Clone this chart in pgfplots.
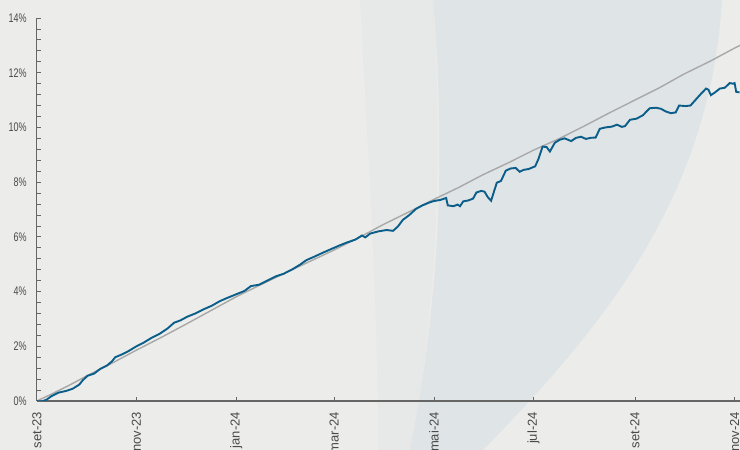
\documentclass[border=0pt]{standalone}
\usepackage{fontspec}
\setmainfont{Liberation Sans}
\newfontfamily\narrowfont{Liberation Sans}[FakeStretch=0.72]
\usepackage{pgfplots}
\pgfplotsset{compat=1.18}
\definecolor{bgc}{HTML}{ECECEA}
\definecolor{swa}{HTML}{DFE4E6}
\definecolor{swb}{HTML}{E7E9E9}
\definecolor{fundo}{HTML}{0B5E8A}
\definecolor{cdi}{HTML}{A8A8A8}
\definecolor{axc}{HTML}{666666}
\definecolor{txc}{HTML}{4A4A4A}
\begin{document}
\begin{tikzpicture}
\fill[bgc] (-36.8pt,-49pt) rectangle (703.2pt,401pt);
\begin{scope}[x=1pt,y=-1pt,shift={(-36.8pt,401pt)}]
\fill[swb] (360,0) .. controls (368,150) and (378,300) .. (378,450) -- (412,450) .. controls (430,330) and (446,200) .. (433,0) -- cycle;
\fill[swa] (433,0) .. controls (446,150) and (440,300) .. (410,450) -- (483,450) .. controls (600,330) and (710,200) .. (722,0) -- cycle;
\end{scope}
\begin{axis}[
  at={(0,0)}, anchor=south west,
  scale only axis, width=703.5pt, height=383pt,
  xmin=0, xmax=430.5, ymin=0, ymax=14,
  axis lines*=left,
  axis line style={axc},
  x axis line style={line width=1.5pt},
  y axis line style={line width=0.9pt},
  tick align=inside,
  major tick length=4pt, minor tick length=4pt,
  every tick/.style={axc, line width=0.8pt},
  xtick={0,61,122,182,243,304,366,427},
  xticklabels={set-23,nov-23,jan-24,mar-24,mai-24,jul-24,set-24,nov-24},
  xticklabel style={rotate=90, anchor=east, inner sep=0pt, font=\fontsize{13}{15}\selectfont, text=txc},
  xticklabel shift=11pt,
  ytick={0,2,4,6,8,10,12,14},
  yticklabels={0\%,2\%,4\%,6\%,8\%,10\%,12\%,14\%},
  minor y tick num=4,
  yticklabel style={anchor=east, inner sep=0pt, font=\narrowfont\fontsize{12.5}{14}\selectfont, text=txc},
  yticklabel shift=10pt,
]
\addplot[cdi, line width=1.4pt] coordinates {
(0,0) (10,0.28) (20,0.58) (30,0.9) (45,1.35) (61,1.86) (76,2.32) (92,2.83) (107,3.32) (122,3.81) (137,4.25) (152,4.68) (167,5.1) (182,5.52) (197,5.97) (212,6.45) (228,6.92) (243,7.37) (258,7.8) (273,8.27) (289,8.72) (304,9.17) (320,9.6) (335,10.05) (350,10.52) (366,11.0) (381,11.45) (396,11.95) (412,12.42) (427,12.9) (430.3,13.0)
};
\addplot[fundo, line width=1.9pt] coordinates {
(0,0) (3,-0.02) (6,0.05) (9,0.18) (13,0.3) (18,0.37) (22,0.45) (26,0.6) (28,0.75) (31,0.92) (35,1.0) (39,1.18) (43,1.3) (46,1.45) (48,1.6) (52,1.7) (56,1.82) (61,2.0) (65,2.12) (70,2.3) (75,2.45) (80,2.65) (84,2.86) (88,2.95) (92,3.08) (97,3.2) (102,3.35) (107,3.48) (112,3.65) (117,3.78) (122,3.9) (127,4.02) (131,4.2) (136,4.25) (141,4.4) (146,4.55) (151,4.65) (156,4.8) (161,4.98) (165,5.15) (170,5.28) (175,5.42) (180,5.55) (185,5.68) (190,5.8) (195,5.9) (199,6.05) (201,5.98) (204,6.12) (209,6.2) (214,6.25) (218,6.22) (221,6.38) (224,6.62) (228,6.8) (232,7.02) (236,7.15) (240,7.25) (243,7.31) (247,7.35) (250.5,7.42) (251.5,7.15) (255,7.12) (257.5,7.18) (259,7.12) (261,7.3) (264,7.33) (267,7.4) (269,7.62) (272,7.68) (274,7.65) (276,7.45) (278,7.32) (280,7.7) (281.5,7.98) (284,8.04) (287,8.42) (290,8.5) (293,8.52) (295.5,8.38) (298,8.45) (301,8.48) (305,8.58) (307,8.85) (309.5,9.3) (312,9.28) (314,9.12) (317,9.44) (320,9.55) (323,9.6) (327,9.5) (330,9.62) (333,9.66) (336,9.58) (339,9.62) (342,9.63) (344.5,9.95) (348,10.0) (352,10.03) (355,10.1) (358,10.02) (360,10.05) (363,10.28) (367,10.32) (371,10.45) (375,10.7) (379,10.72) (382,10.68) (385,10.58) (388,10.52) (391,10.55) (393,10.8) (397,10.78) (400,10.8) (403,11.0) (406,11.2) (409.5,11.42) (411,11.38) (412.5,11.18) (415,11.28) (418,11.42) (421,11.45) (424,11.62) (426,11.6) (427,11.62) (428,11.3) (430,11.28)
};
\end{axis}
\pgfresetboundingbox
\useasboundingbox (-36.8pt,-49pt) rectangle (703.2pt,401pt);
\end{tikzpicture}
\end{document}
